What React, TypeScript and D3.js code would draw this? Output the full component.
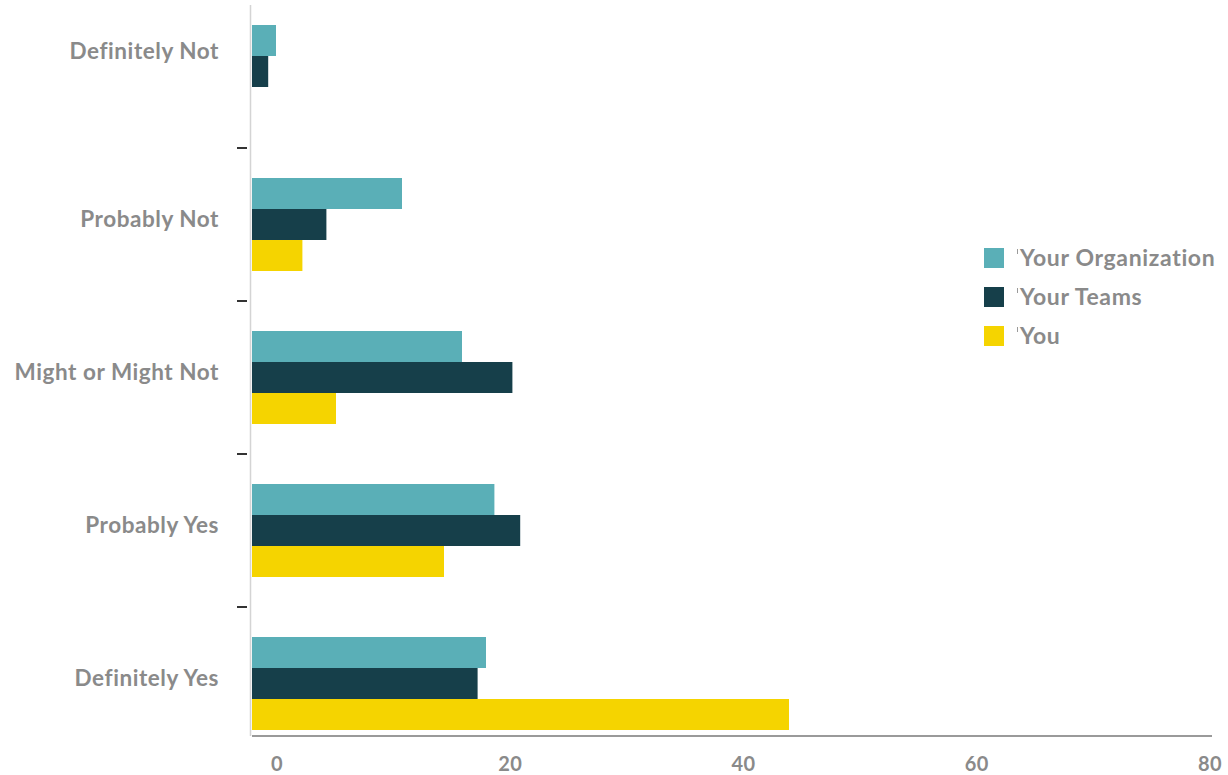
import React from "react";
import * as d3 from "d3";

const categories = ["Definitely Not", "Probably Not", "Might or Might Not", "Probably Yes", "Definitely Yes"];
const seriesNames = ["Your Organization", "Your Teams", "You"];
const orgValues = [2.0, 12.5, 17.5, 20.2, 19.5];
const teamValues = [1.35, 6.2, 21.7, 22.35, 18.8];
const youValues = [0, 4.2, 7.0, 16.0, 44.75];
const tickValues = [0, 20, 40, 60, 80];
const colors = ["#5aafb7", "#163f4a", "#f5d400"];

const W = 1228;
const H = 775;

export default function App() {
  const series = [orgValues, teamValues, youValues];
  const x = d3.scaleLinear().domain([0, 80]).range([252, 1212]);
  const xLabel = d3.scaleLinear().domain([0, 80]).range([277, 1210]);
  const y = d3.scaleBand<string>().domain(categories).range([-5, 760]).paddingInner(60 / 153).paddingOuter(30 / 153);
  const inner = d3.scaleBand<string>().domain(seriesNames).range([0, y.bandwidth()]);
  const step = y.step();
  const gap = step - y.bandwidth();
  const labelColor = "#8a8a8a";
  const font = "Lato, 'Open Sans', sans-serif";

  return (
    <svg width={W} height={H} style={{ position: "absolute", left: 0, top: 0 }} fontFamily={font}>
      {/* y axis line */}
      <line x1={250.5} x2={250.5} y1={5} y2={736} stroke="#d4d4d4" strokeWidth={1.5} />
      {/* y ticks at band boundaries */}
      {categories.slice(1).map((c) => (
        <line key={c} x1={237} x2={247} y1={(y(c) as number) - gap / 2} y2={(y(c) as number) - gap / 2} stroke="#333" strokeWidth={2} />
      ))}
      {/* bars */}
      {categories.map((c, i) => (
        <g key={c} transform={`translate(0,${y(c)})`}>
          {series.map((vals, s) =>
            vals[i] > 0 ? (
              <rect
                key={s}
                x={x(0)}
                y={inner(seriesNames[s])}
                width={x(vals[i]) - x(0)}
                height={inner.bandwidth()}
                fill={colors[s]}
              />
            ) : null
          )}
        </g>
      ))}
      {/* category labels */}
      {categories.map((c, i) => {
        const idx = series.map((v, s) => (v[i] > 0 ? s : -1)).filter((s) => s >= 0);
        const top = (y(c) as number) + (inner(seriesNames[idx[0]]) as number);
        const bot = (y(c) as number) + (inner(seriesNames[idx[idx.length - 1]]) as number) + inner.bandwidth();
        const cy = (top + bot) / 2 - 5;
        return (
          <text key={c} x={219} y={cy} dy="0.35em" textAnchor="end" fontSize={22.5} letterSpacing={0.55} fontWeight={700} fill={labelColor}>
            {c}
          </text>
        );
      })}
      {/* x axis */}
      <line x1={252} x2={1212} y1={736} y2={736} stroke="#9a9a9a" strokeWidth={2} />
      {tickValues.map((t) => (
        <text key={t} x={xLabel(t)} y={771} textAnchor="middle" fontSize={20} letterSpacing={0.5} fontWeight={700} fill={labelColor}>
          {t}
        </text>
      ))}
      {/* legend */}
      {seriesNames.map((n, s) => (
        <g key={n} transform={`translate(984,${258 + s * 39})`}>
          <rect x={0} y={-10} width={20} height={20} fill={colors[s]} />
          <line x1={33.5} x2={33.5} y1={-9} y2={-4} stroke="#9a9a9a" strokeWidth={1} />
          <text x={36} y={0} dy="0.35em" fontSize={23} letterSpacing={0.65} fontWeight={700} fill={labelColor}>
            {n}
          </text>
        </g>
      ))}
    </svg>
  );
}
